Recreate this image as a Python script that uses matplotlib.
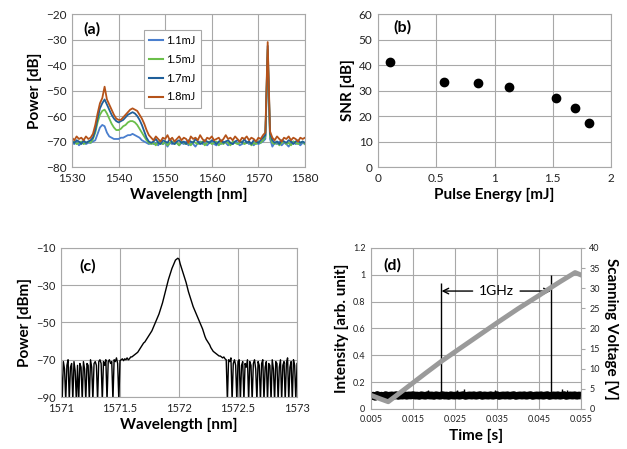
import numpy as np
import matplotlib
matplotlib.use("Agg")
import matplotlib.pyplot as plt
from matplotlib.ticker import FormatStrFormatter

plt.rcParams['font.family'] = ['Lato', 'DejaVu Sans']

# ---------------- (a) spectra vs pulse energy ----------------
wl_a = np.arange(1530, 1580.01, 0.5)
labels_a = ['1.1mJ', '1.5mJ', '1.7mJ', '1.8mJ']
colors_a = ['#4A7FCE', '#6BBF4A', '#1F5F9A', '#B5531A']

p_11 = [
    -70.5, -71.0, -70.0, -71.5, -70.5, -70.0, -71.0, -70.5,
    -70.5, -70.0, -69.5, -67.0, -64.5, -63.5, -64.0, -66.5,
    -68.0, -68.5, -69.0, -69.0, -69.0, -68.5, -68.5, -68.0,
    -67.5, -67.5, -67.0, -67.5, -68.0, -68.5, -69.5, -70.0,
    -70.5, -71.0, -70.5,
    -71.0, -70.5, -71.5, -70.0, -71.0, -70.5, -72.0, -70.5,
    -71.0, -70.0, -70.5, -71.5, -70.5, -71.0, -70.0, -71.5,
    -70.5, -71.0, -72.0, -70.5, -70.0, -71.0, -70.5, -71.5,
    -70.5, -70.0, -71.0, -71.5, -70.5, -71.0, -70.0, -70.5,
    -71.5, -70.5, -71.0, -70.0, -70.5, -71.5, -71.0, -70.5,
    -70.0, -71.0, -70.5, -71.5, -70.5, -71.0, -70.5, -70.0,
    -69.0, -37.0, -69.0,
    -72.0, -70.5, -71.0, -70.0, -71.5, -70.5, -71.0, -72.0,
    -70.5, -70.0, -71.0, -70.5, -71.5, -70.5, -71.0]

p_15 = [
    -70.5, -70.0, -71.0, -70.5, -70.0, -71.0, -70.5, -70.0,
    -70.5, -69.0, -66.5, -62.5, -59.5, -58.0, -57.5, -59.0,
    -61.0, -63.0, -64.5, -65.5, -65.5, -65.0, -64.0, -63.5,
    -62.5, -62.0, -62.0, -62.5, -63.5, -65.0, -66.5, -68.0,
    -69.5, -70.5, -71.0,
    -70.5, -71.5, -70.0, -70.5, -71.0, -70.0, -71.5, -70.5,
    -70.0, -71.0, -70.5, -71.5, -70.0, -70.5, -71.0, -70.5,
    -71.5, -70.0, -70.5, -71.0, -70.5, -70.0, -71.5, -70.5,
    -70.0, -71.0, -70.5, -70.0, -71.5, -70.5, -71.0, -70.0,
    -70.5, -71.5, -70.0, -70.5, -71.0, -70.5, -70.0, -71.0,
    -70.5, -70.0, -71.5, -70.5, -71.0, -70.0, -70.5, -69.5,
    -68.0, -34.0, -68.0,
    -70.5, -71.0, -70.0, -71.5, -70.5, -70.0, -71.0, -70.5,
    -71.5, -70.0, -70.5, -71.0, -70.5, -70.0, -71.0]

p_17 = [
    -70.0, -70.5, -69.5, -70.0, -71.0, -69.5, -70.5, -70.0,
    -69.5, -68.5, -65.5, -61.0, -57.0, -55.0, -53.5, -55.5,
    -57.5, -59.5, -61.0, -62.0, -62.5, -62.0, -61.5, -60.5,
    -59.5, -59.0, -58.5, -59.0, -60.0, -61.5, -63.5, -66.0,
    -68.5, -70.0, -70.5,
    -70.0, -69.0, -70.5, -71.0, -69.5, -70.0, -70.5, -69.0,
    -70.5, -71.0, -70.0, -69.5, -70.5, -70.0, -71.0, -69.5,
    -70.0, -70.5, -69.0, -70.0, -71.0, -70.5, -69.5, -70.0,
    -70.5, -69.5, -70.0, -71.0, -70.0, -69.5, -70.5, -70.0,
    -69.5, -70.5, -71.0, -70.0, -69.5, -70.0, -70.5, -69.0,
    -70.5, -70.0, -71.0, -69.5, -70.0, -70.5, -69.5, -68.5,
    -67.5, -32.5, -67.0,
    -69.5, -70.5, -70.0, -71.0, -69.5, -70.0, -70.5, -69.5,
    -70.0, -71.0, -70.0, -69.5, -70.5, -70.0, -70.5]

p_18 = [
    -68.5, -69.5, -68.0, -69.0, -68.5, -69.5, -68.0, -69.0,
    -68.5, -67.0, -63.5, -59.0, -55.0, -53.0, -48.5, -53.5,
    -55.5, -57.5, -59.5, -61.0, -61.5, -61.5, -60.5, -59.5,
    -58.5, -57.5, -57.0, -57.5, -58.0, -59.5, -61.0, -63.0,
    -65.5, -67.5, -68.5,
    -69.5, -68.0, -69.0, -70.0, -68.5, -69.0, -67.5, -69.5,
    -68.5, -70.0, -69.0, -68.0, -69.5, -68.5, -69.0, -70.5,
    -68.0, -69.0, -68.5, -69.5, -67.5, -69.0, -70.0, -68.5,
    -69.0, -68.0, -69.5, -69.0, -68.5, -70.0, -69.0, -67.5,
    -69.0, -68.5, -69.5, -68.0, -69.0, -70.0, -68.5, -69.0,
    -68.0, -69.5, -68.5, -69.0, -70.0, -68.5, -69.0, -67.5,
    -66.5, -31.0, -66.0,
    -68.5, -69.5, -68.0, -69.0, -70.0, -68.5, -69.0, -68.0,
    -69.5, -68.5, -69.0, -70.0, -68.5, -69.0, -68.5]

series_a = [p_11, p_15, p_17, p_18]

# ---------------- (b) SNR vs pulse energy ----------------
energy_b = [0.106, 0.567, 0.856, 1.127, 1.525, 1.688, 1.808]
snr_b = [41.2, 33.4, 32.9, 31.3, 27.1, 23.2, 17.2]

# ---------------- (c) narrow spectrum ----------------
wl_c = np.round(np.arange(1571.0, 1573.0001, 0.01), 2)
p_c = [
    -72, -92, -71, -75, -92, -73, -70, -92, -74, -72,
    -92, -71, -76, -92, -73, -92, -72, -74, -92, -71,
    -75, -92, -72, -73, -92, -70, -74, -92, -72, -71,
    -73, -92, -71, -70, -72, -92, -71, -73, -70, -92,
    -71, -70, -72, -71, -92, -70, -71, -69, -72, -92,
    -70.5, -70, -69.5, -70.5, -69.5, -70, -69, -70, -69.5, -68.5, -68.5,
    -68, -67.5, -67, -66.5, -66, -65, -64, -63, -62, -61,
    -60.5, -59.5, -58.5, -57.5, -56.5, -55.5, -54.5, -53, -51.5, -50,
    -48.5, -47, -45.5, -43.5, -41.5, -39.5, -37, -34.5, -32, -29.5,
    -27, -25, -23, -21, -19.5, -18, -16.5, -16, -15.5, -16,
    -18.5, -20.5, -22.5, -24.5, -26.5, -28.5, -31, -33.5, -35.5, -37.5,
    -39.5, -41.5, -43, -44.5, -46, -47.5, -49, -50.5, -52, -53.5,
    -55.5, -57.5, -59, -60, -61, -62, -63.5, -64.5, -65.5, -66,
    -66.5, -67, -67.5, -68, -68, -68.5, -69, -68.5, -69.5, -70,
    -92, -70, -71, -69, -92, -72, -70, -73, -92, -71,
    -70, -92, -73, -71, -92, -72, -74, -70, -92, -71,
    -73, -92, -72, -70, -75, -92, -71, -73, -92, -72,
    -70, -92, -74, -71, -92, -72, -73, -92, -70, -75,
    -92, -71, -72, -92, -74, -70, -92, -73, -71, -92,
    -72, -69, -92, -74, -71, -92, -70, -73, -92, -72]

# ---------------- (d) scanning Fabry-Perot ----------------
time_d = np.arange(0.005, 0.05501, 0.0005)
intensity_d = [
    0.095, 0.100, 0.090, 0.105, 0.095, 0.100, 0.092, 0.104, 0.098, 0.100,
    0.102, 0.098, 0.104, 0.097, 0.101, 0.099, 0.103, 0.098, 0.102, 0.100,
    0.104, 0.099, 0.101, 0.097, 0.103, 0.100, 0.098, 0.104, 0.099, 0.102,
    0.097, 0.103, 0.100, 0.098, 0.104, 0.099, 0.101, 0.097, 0.103, 0.100,
    0.099, 0.103, 0.098, 0.101, 0.104, 0.097, 0.100, 0.102, 0.099, 0.103,
    0.098, 0.101, 0.104, 0.097, 0.102, 0.100, 0.099, 0.103, 0.098, 0.101,
    0.104, 0.097, 0.100, 0.102, 0.099, 0.103, 0.098, 0.101, 0.104, 0.097,
    0.100, 0.102, 0.099, 0.103, 0.098, 0.101, 0.104, 0.097, 0.100, 0.102,
    0.099, 0.103, 0.098, 0.101, 0.104, 0.097, 0.100, 0.102, 0.099, 0.103,
    0.098, 0.101, 0.104, 0.097, 0.100, 0.102, 0.099, 0.103, 0.098, 0.101, 0.100]
peak_t = [0.0217, 0.0479]
peak_h = [0.94, 1.0]
glitch_t = [0.0157, 0.0186, 0.0255, 0.0271, 0.0286, 0.0345, 0.0413, 0.0506, 0.0516]
glitch_h = [0.13, 0.14, 0.14, 0.15, 0.13, 0.14, 0.13, 0.15, 0.14]
volt_t = [0.005, 0.007, 0.0091, 0.012, 0.015, 0.018, 0.0217, 0.025, 0.030,
          0.035, 0.040, 0.045, 0.0476, 0.050, 0.0536, 0.055]
volt_v = [3.4, 2.6, 1.8, 4.1, 6.5, 8.9, 11.8, 14.2, 17.8,
          21.4, 24.9, 28.2, 30.0, 31.6, 33.9, 33.3]

# ---------------- figure ----------------
GRID = '#A8A8A8'
fig = plt.figure(figsize=(6.27, 4.49), dpi=100)
axa = fig.add_axes([0.1148, 0.628, 0.3716, 0.3408])
axb = fig.add_axes([0.6029, 0.628, 0.3716, 0.3408])
axc = fig.add_axes([0.0973, 0.1158, 0.3764, 0.3319])
axd = fig.add_axes([0.5917, 0.0891, 0.3349, 0.3586])


def style(ax, size):
    ax.grid(True, color=GRID, lw=0.8)
    ax.set_axisbelow(True)
    for s in ax.spines.values():
        s.set_color(GRID)
        s.set_linewidth(0.8)
    ax.tick_params(length=0, labelsize=size, pad=4, colors='#222222')


LABEL = dict(fontsize=11, fontweight='bold')
PANEL = dict(fontsize=11.5, fontweight='bold', va='center')

# (a)
style(axa, 8.5)
for y, c, l in zip(series_a, colors_a, labels_a):
    axa.plot(wl_a, y, color=c, lw=1.3, label=l)
axa.set_xlim(1530, 1580)
axa.set_ylim(-80, -20)
axa.set_xticks(np.arange(1530, 1581, 10))
axa.set_yticks(np.arange(-80, -19, 10))
axa.set_xlabel('Wavelength [nm]', labelpad=3, **LABEL)
axa.set_ylabel('Power [dB]', labelpad=3, **LABEL)
axa.text(0.047, 0.90, '(a)', transform=axa.transAxes, **PANEL)
leg = axa.legend(loc='upper left', bbox_to_anchor=(0.285, 0.935), fontsize=8,
                 handlelength=1.2, handletextpad=0.3, labelspacing=0.7,
                 borderpad=0.5, fancybox=False, framealpha=1)
leg.get_frame().set_edgecolor(GRID)
leg.get_frame().set_linewidth(0.8)
for h in leg.get_lines():
    h.set_linewidth(1.5)

# (b)
style(axb, 8.5)
axb.plot(energy_b, snr_b, 'o', color='black', ms=6)
axb.set_xlim(0, 2)
axb.set_ylim(0, 60)
axb.set_xticks([0, 0.5, 1, 1.5, 2])
axb.set_yticks(np.arange(0, 61, 10))
axb.xaxis.set_major_formatter(FormatStrFormatter('%g'))
axb.set_xlabel('Pulse Energy [mJ]', labelpad=3, **LABEL)
axb.set_ylabel('SNR [dB]', labelpad=3, **LABEL)
axb.text(0.064, 0.91, '(b)', transform=axb.transAxes, **PANEL)

# (c)
style(axc, 8)
axc.plot(wl_c, p_c, color='black', lw=1.0)
axc.set_xlim(1571, 1573)
axc.set_ylim(-90, -10)
axc.set_xticks([1571, 1571.5, 1572, 1572.5, 1573])
axc.set_yticks([-90, -70, -50, -30, -10])
axc.xaxis.set_major_formatter(FormatStrFormatter('%g'))
axc.set_xlabel('Wavelength [nm]', labelpad=3, **LABEL)
axc.set_ylabel('Power [dBm]', labelpad=3, **LABEL)
axc.text(0.076, 0.874, '(c)', transform=axc.transAxes, **PANEL)

# (d)
style(axd, 6.5)
axd.plot(time_d, intensity_d, color='black', lw=5.5, solid_capstyle='butt')
axd.vlines(peak_t, 0.1, peak_h, color='black', lw=1.0)
axd.vlines(glitch_t, 0.1, glitch_h, color='black', lw=1.0)
axd.set_xlim(0.005, 0.055)
axd.set_ylim(0, 1.2)
axd.set_xticks(np.arange(0.005, 0.0551, 0.01))
axd.set_yticks(np.arange(0, 1.21, 0.2))
axd.xaxis.set_major_formatter(FormatStrFormatter('%.3f'))
axd.yaxis.set_major_formatter(FormatStrFormatter('%g'))
axd.set_xlabel('Time [s]', labelpad=4, **LABEL)
axd.set_ylabel('Intensity [arb. unit]', labelpad=3, **LABEL)
axd.text(0.057, 0.894, '(d)', transform=axd.transAxes, **PANEL)

axr = axd.twinx()
axr.plot(volt_t, volt_v, color='#9A9A9A', lw=3.5)
axr.set_ylim(0, 40)
axr.set_yticks(np.arange(0, 41, 5))
for s in axr.spines.values():
    s.set_visible(False)
axr.tick_params(length=3, width=0.8, color=GRID, labelsize=6.5, pad=3, colors='#222222')
axr.tick_params(axis='y', color=GRID)
axr.set_ylabel('Scanning Voltage [V]', rotation=270, labelpad=13, **LABEL)

axd.text(0.0348, 0.879, '1GHz', fontsize=10, ha='center', va='center')
axd.annotate('', xy=(0.0218, 0.879), xytext=(0.0292, 0.879),
             arrowprops=dict(arrowstyle='->', lw=1.0, color='black',
                             shrinkA=0, shrinkB=0))
axd.annotate('', xy=(0.0478, 0.879), xytext=(0.0405, 0.879),
             arrowprops=dict(arrowstyle='->', lw=1.0, color='black',
                             shrinkA=0, shrinkB=0))

fig.savefig('out.png', dpi=100)
